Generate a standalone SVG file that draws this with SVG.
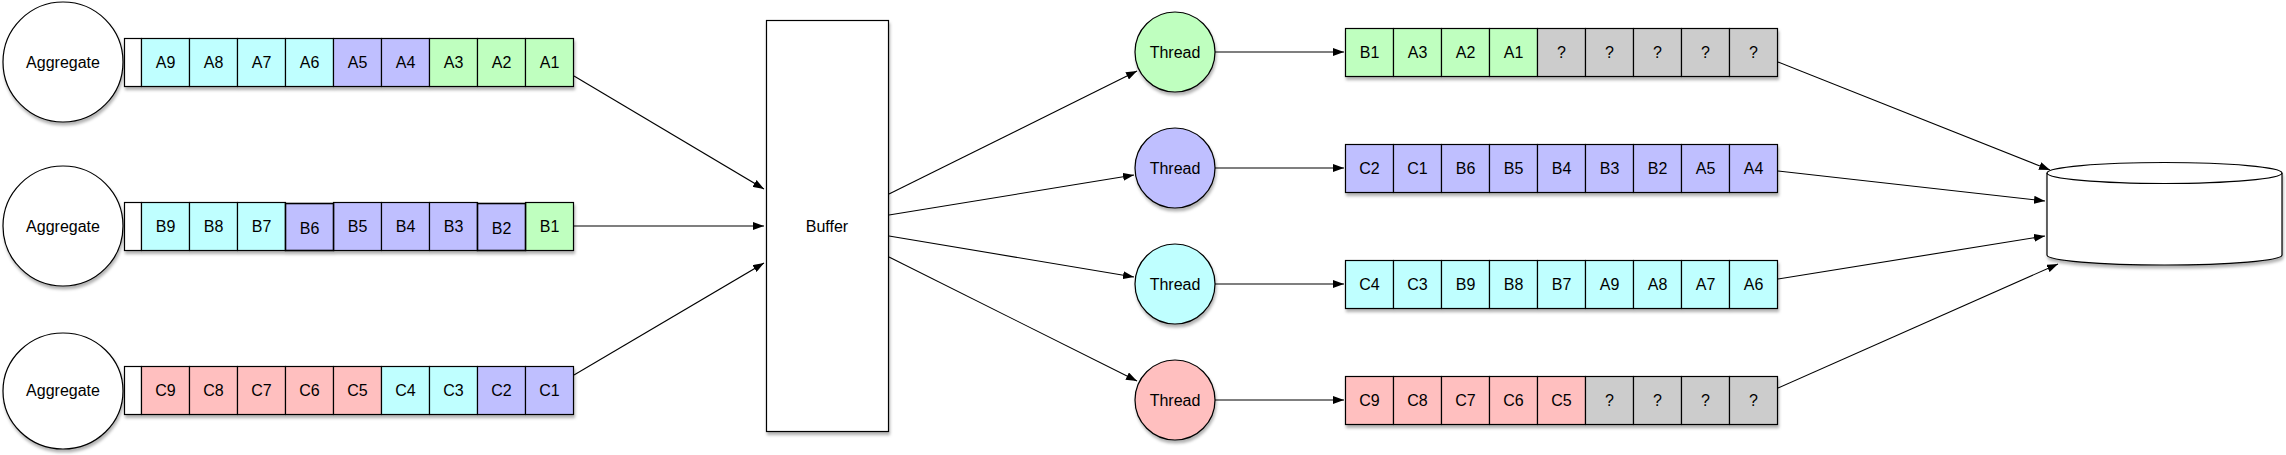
<svg xmlns="http://www.w3.org/2000/svg" width="2286" height="455" viewBox="0 0 2286 455">
<style>
text{font-family:"Liberation Sans",Arial,sans-serif;font-size:16px;fill:#000;text-anchor:middle}
.s{stroke:#000;stroke-width:1.2}
.w{fill:#fff}.c{fill:#bfffff}.p{fill:#bfbfff}.g{fill:#bfffbf}.r{fill:#ffbfbf}.q{fill:#cccccc}
.ln{fill:none;stroke:#000;stroke-width:1.1;marker-end:url(#ah)}
.sh{filter:url(#ds)}
</style>
<defs>
<filter id="ds" x="-10%" y="-10%" width="125%" height="130%">
<feDropShadow dx="1" dy="3" stdDeviation="1.5" flood-color="#000" flood-opacity="0.3"/>
</filter>
<marker id="ah" markerUnits="userSpaceOnUse" markerWidth="12" markerHeight="8" refX="11" refY="4" orient="auto">
<path d="M0,0 L11,4 L0,8 z" fill="#000"/>
</marker>
</defs>
<rect width="2286" height="455" fill="#fff"/>

<g id="connectors">
<line class="ln" x1="574" y1="76" x2="764" y2="189"/>
<line class="ln" x1="574" y1="226" x2="764" y2="226"/>
<line class="ln" x1="574" y1="375" x2="764" y2="263"/>
<line class="ln" x1="889" y1="194" x2="1137" y2="71"/>
<line class="ln" x1="889" y1="215" x2="1134" y2="175"/>
<line class="ln" x1="889" y1="236" x2="1134" y2="277"/>
<line class="ln" x1="889" y1="257" x2="1137" y2="381"/>
<line class="ln" x1="1215" y1="52" x2="1344" y2="52"/>
<line class="ln" x1="1215" y1="168" x2="1344" y2="168"/>
<line class="ln" x1="1215" y1="284" x2="1344" y2="284"/>
<line class="ln" x1="1215" y1="400" x2="1344" y2="400"/>
<line class="ln" x1="1778" y1="62" x2="2050" y2="170"/>
<line class="ln" x1="1778" y1="171" x2="2045" y2="201"/>
<line class="ln" x1="1778" y1="279" x2="2045" y2="236"/>
<line class="ln" x1="1778" y1="388" x2="2058" y2="264"/>
</g>

<g id="aggregate-a"><ellipse class="s w sh" cx="63" cy="62" rx="60" ry="60"/><text x="63" y="68">Aggregate</text></g>
<g id="aggregate-b"><ellipse class="s w sh" cx="63" cy="226" rx="60" ry="60"/><text x="63" y="232">Aggregate</text></g>
<g id="aggregate-c"><ellipse class="s w sh" cx="63" cy="391" rx="60" ry="58"/><text x="63" y="396">Aggregate</text></g>

<g id="queue-a">
<g class="sh"><rect class="s w" x="124.5" y="38.5" width="17" height="48"/>
<rect class="s c" x="141.5" y="38.5" width="48" height="48"/><rect class="s c" x="189.5" y="38.5" width="48" height="48"/><rect class="s c" x="237.5" y="38.5" width="48" height="48"/><rect class="s c" x="285.5" y="38.5" width="48" height="48"/>
<rect class="s p" x="333.5" y="38.5" width="48" height="48"/><rect class="s p" x="381.5" y="38.5" width="48" height="48"/>
<rect class="s g" x="429.5" y="38.5" width="48" height="48"/><rect class="s g" x="477.5" y="38.5" width="48" height="48"/><rect class="s g" x="525.5" y="38.5" width="48" height="48"/></g>
<text x="165.5" y="68">A9</text><text x="213.5" y="68">A8</text><text x="261.5" y="68">A7</text><text x="309.5" y="68">A6</text><text x="357.5" y="68">A5</text><text x="405.5" y="68">A4</text><text x="453.5" y="68">A3</text><text x="501.5" y="68">A2</text><text x="549.5" y="68">A1</text>
</g>

<g id="queue-b">
<g class="sh"><rect class="s w" x="124.5" y="202.5" width="17" height="48"/>
<rect class="s c" x="141.5" y="202.5" width="48" height="48"/><rect class="s c" x="189.5" y="202.5" width="48" height="48"/><rect class="s c" x="237.5" y="202.5" width="48" height="48"/>
<rect class="s p" x="333.5" y="202.5" width="48" height="48"/><rect class="s p" x="381.5" y="202.5" width="48" height="48"/><rect class="s p" x="429.5" y="202.5" width="48" height="48"/>
<rect class="s g" x="525.5" y="202.5" width="48" height="48"/>
<rect class="s p" x="285.5" y="203.5" width="48" height="47" style="stroke-width:1.6"/>
<rect class="s p" x="477.5" y="203.5" width="48" height="47" style="stroke-width:1.6"/></g>
<text x="165.5" y="232">B9</text><text x="213.5" y="232">B8</text><text x="261.5" y="232">B7</text><text x="309.5" y="234">B6</text><text x="357.5" y="232">B5</text><text x="405.5" y="232">B4</text><text x="453.5" y="232">B3</text><text x="501.5" y="234">B2</text><text x="549.5" y="232">B1</text>
</g>

<g id="queue-c">
<g class="sh"><rect class="s w" x="124.5" y="366.5" width="17" height="48"/>
<rect class="s r" x="141.5" y="366.5" width="48" height="48"/><rect class="s r" x="189.5" y="366.5" width="48" height="48"/><rect class="s r" x="237.5" y="366.5" width="48" height="48"/><rect class="s r" x="285.5" y="366.5" width="48" height="48"/><rect class="s r" x="333.5" y="366.5" width="48" height="48"/>
<rect class="s c" x="381.5" y="366.5" width="48" height="48"/><rect class="s c" x="429.5" y="366.5" width="48" height="48"/>
<rect class="s p" x="477.5" y="366.5" width="48" height="48"/><rect class="s p" x="525.5" y="366.5" width="48" height="48"/></g>
<text x="165.5" y="396">C9</text><text x="213.5" y="396">C8</text><text x="261.5" y="396">C7</text><text x="309.5" y="396">C6</text><text x="357.5" y="396">C5</text><text x="405.5" y="396">C4</text><text x="453.5" y="396">C3</text><text x="501.5" y="396">C2</text><text x="549.5" y="396">C1</text>
</g>

<g id="buffer"><rect class="s w sh" x="766.5" y="20.5" width="122" height="411"/><text x="827" y="232">Buffer</text></g>

<g id="thread-1"><ellipse class="s g sh" cx="1175" cy="52" rx="40" ry="40"/><text x="1175" y="58">Thread</text></g>
<g id="thread-2"><ellipse class="s p sh" cx="1175" cy="168" rx="40" ry="40"/><text x="1175" y="174">Thread</text></g>
<g id="thread-3"><ellipse class="s c sh" cx="1175" cy="284" rx="40" ry="40"/><text x="1175" y="290">Thread</text></g>
<g id="thread-4"><ellipse class="s r sh" cx="1175" cy="400" rx="40" ry="40"/><text x="1175" y="406">Thread</text></g>

<g id="out-queue-1">
<g class="sh"><rect class="s g" x="1345.5" y="28.5" width="48" height="48"/><rect class="s g" x="1393.5" y="28.5" width="48" height="48"/><rect class="s g" x="1441.5" y="28.5" width="48" height="48"/><rect class="s g" x="1489.5" y="28.5" width="48" height="48"/>
<rect class="s q" x="1537.5" y="28.5" width="48" height="48"/><rect class="s q" x="1585.5" y="28.5" width="48" height="48"/><rect class="s q" x="1633.5" y="28.5" width="48" height="48"/><rect class="s q" x="1681.5" y="28.5" width="48" height="48"/><rect class="s q" x="1729.5" y="28.5" width="48" height="48"/></g>
<text x="1369.5" y="58">B1</text><text x="1417.5" y="58">A3</text><text x="1465.5" y="58">A2</text><text x="1513.5" y="58">A1</text><text x="1561.5" y="58">?</text><text x="1609.5" y="58">?</text><text x="1657.5" y="58">?</text><text x="1705.5" y="58">?</text><text x="1753.5" y="58">?</text>
</g>

<g id="out-queue-2">
<g class="sh"><rect class="s p" x="1345.5" y="144.5" width="48" height="48"/><rect class="s p" x="1393.5" y="144.5" width="48" height="48"/><rect class="s p" x="1441.5" y="144.5" width="48" height="48"/><rect class="s p" x="1489.5" y="144.5" width="48" height="48"/><rect class="s p" x="1537.5" y="144.5" width="48" height="48"/><rect class="s p" x="1585.5" y="144.5" width="48" height="48"/><rect class="s p" x="1633.5" y="144.5" width="48" height="48"/><rect class="s p" x="1681.5" y="144.5" width="48" height="48"/><rect class="s p" x="1729.5" y="144.5" width="48" height="48"/></g>
<text x="1369.5" y="174">C2</text><text x="1417.5" y="174">C1</text><text x="1465.5" y="174">B6</text><text x="1513.5" y="174">B5</text><text x="1561.5" y="174">B4</text><text x="1609.5" y="174">B3</text><text x="1657.5" y="174">B2</text><text x="1705.5" y="174">A5</text><text x="1753.5" y="174">A4</text>
</g>

<g id="out-queue-3">
<g class="sh"><rect class="s c" x="1345.5" y="260.5" width="48" height="48"/><rect class="s c" x="1393.5" y="260.5" width="48" height="48"/><rect class="s c" x="1441.5" y="260.5" width="48" height="48"/><rect class="s c" x="1489.5" y="260.5" width="48" height="48"/><rect class="s c" x="1537.5" y="260.5" width="48" height="48"/><rect class="s c" x="1585.5" y="260.5" width="48" height="48"/><rect class="s c" x="1633.5" y="260.5" width="48" height="48"/><rect class="s c" x="1681.5" y="260.5" width="48" height="48"/><rect class="s c" x="1729.5" y="260.5" width="48" height="48"/></g>
<text x="1369.5" y="290">C4</text><text x="1417.5" y="290">C3</text><text x="1465.5" y="290">B9</text><text x="1513.5" y="290">B8</text><text x="1561.5" y="290">B7</text><text x="1609.5" y="290">A9</text><text x="1657.5" y="290">A8</text><text x="1705.5" y="290">A7</text><text x="1753.5" y="290">A6</text>
</g>

<g id="out-queue-4">
<g class="sh"><rect class="s r" x="1345.5" y="376.5" width="48" height="48"/><rect class="s r" x="1393.5" y="376.5" width="48" height="48"/><rect class="s r" x="1441.5" y="376.5" width="48" height="48"/><rect class="s r" x="1489.5" y="376.5" width="48" height="48"/><rect class="s r" x="1537.5" y="376.5" width="48" height="48"/>
<rect class="s q" x="1585.5" y="376.5" width="48" height="48"/><rect class="s q" x="1633.5" y="376.5" width="48" height="48"/><rect class="s q" x="1681.5" y="376.5" width="48" height="48"/><rect class="s q" x="1729.5" y="376.5" width="48" height="48"/></g>
<text x="1369.5" y="406">C9</text><text x="1417.5" y="406">C8</text><text x="1465.5" y="406">C7</text><text x="1513.5" y="406">C6</text><text x="1561.5" y="406">C5</text><text x="1609.5" y="406">?</text><text x="1657.5" y="406">?</text><text x="1705.5" y="406">?</text><text x="1753.5" y="406">?</text>
</g>

<g id="database">
<path class="s w sh" d="M2047,173 A117.5,10.5 0 0 1 2282,173 L2282,255 A117.5,10 0 0 1 2047,255 Z"/>
<path class="s" fill="none" d="M2047,173 A117.5,10.5 0 0 0 2282,173"/>
</g>
</svg>
